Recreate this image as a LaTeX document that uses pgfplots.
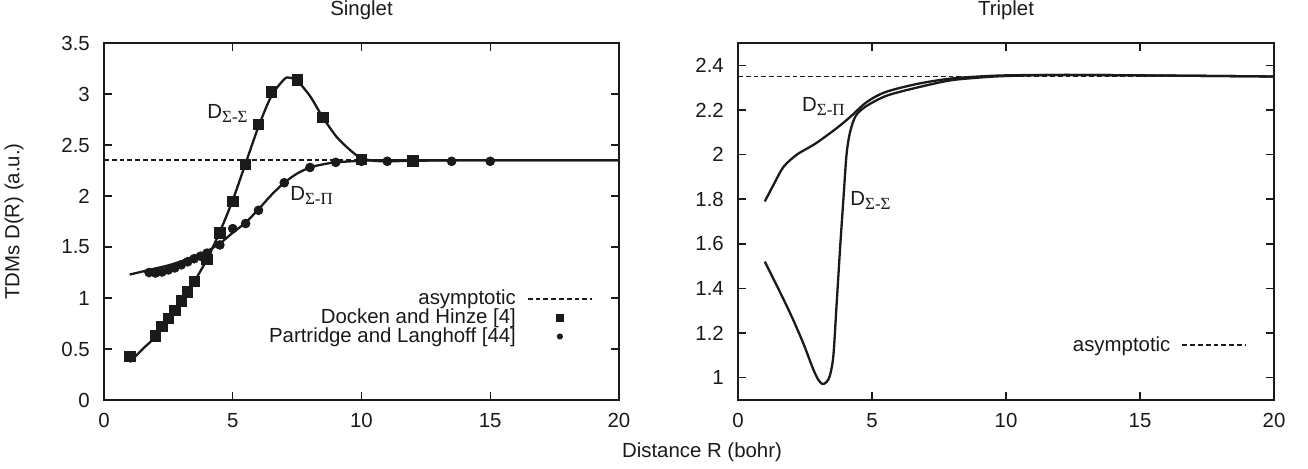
\documentclass[border=0pt]{standalone}
\usepackage{fontspec}
\setmainfont{Liberation Sans}
\newfontfamily\serifgr{Liberation Serif}
\usepackage{pgfplots}
\pgfplotsset{compat=1.18}
\newcommand{\myfont}{\fontsize{10.2}{12}\selectfont}
\newcommand{\Dsub}[1]{D\textsubscript{\serifgr\fontsize{8.5}{10}\selectfont #1}}
\definecolor{ink}{HTML}{1A1A1A}
\tikzset{lbl/.style={anchor=base west, inner sep=0pt, font=\myfont, text=ink}}
\pgfplotsset{
  common/.style={
    scale only axis, height=178.5pt,
    xmin=0, xmax=20, xtick={0,5,10,15,20},
    major tick length=3.8pt,
    tick style={ink, line width=0.7pt},
    axis line style={ink, line width=0.9pt},
    /pgf/number format/assume math mode=true,
    every tick label/.append style={font=\myfont, text=ink},
    xticklabel style={yshift=-3pt},
    yticklabel style={xshift=-3.5pt},
    clip=false,
    legend cell align=right,
    legend plot pos=right,
  },
  curve/.style={ink, line width=1.15pt, smooth, tension=0.5},
  asym/.style={ink, line width=0.95pt, dash pattern=on 2.4pt off 1.5pt,
    legend image code/.code={\draw[##1] (0pt,0pt) -- (32pt,0pt);}},
  sqleg/.style={legend image code/.code={\draw[mark repeat=2,mark phase=2,##1, mark size=1.8pt] plot coordinates {(0pt,0pt) (16pt,0pt) (32pt,0pt)};}},
  cirleg/.style={legend image code/.code={\draw[mark repeat=2,mark phase=2,##1, mark size=1.3pt] plot coordinates {(0pt,0pt) (16pt,0pt) (32pt,0pt)};}},
}

\begin{document}
\myfont
\begin{tikzpicture}
\begin{axis}[common, name=left, at={(0,0)}, width=257.5pt,
  ymin=0, ymax=3.5, ytick={0,0.5,1,1.5,2,2.5,3,3.5},
  legend style={draw=none, fill=none, at={(0.95,0.318)}, anchor=north east,
    font=\myfont, text=ink, row sep=-2.5pt, inner sep=0pt, nodes={inner sep=1.5pt},
    /tikz/every odd column/.append style={column sep=4pt}},
]
\addplot[asym] coordinates {(0,2.35) (20,2.35)};
\addlegendentry{asymptotic}
\addplot[only marks, mark=square*, mark size=2.6pt, ink, sqleg]
coordinates {
(1,0.43) (2,0.63) (2.25,0.72) (2.5,0.80) (2.75,0.88) (3,0.97) (3.25,1.06) (3.5,1.16)
(4,1.38) (4.5,1.64) (5,1.95) (5.5,2.31) (6,2.70) (6.5,3.02) (7.5,3.14) (8.5,2.77)
(10,2.36) (12,2.345)};
\addlegendentry{Docken and Hinze [4]}
\addplot[only marks, mark=*, mark size=2.2pt, ink, cirleg]
coordinates {
(1.75,1.25) (2,1.245) (2.25,1.255) (2.5,1.275) (2.75,1.295) (3,1.325) (3.25,1.355)
(3.5,1.385) (3.75,1.41) (4,1.44) (4.5,1.52) (5,1.68) (5.5,1.73) (6,1.86) (7,2.13)
(8,2.28) (9,2.33) (10,2.34) (11,2.34) (13.5,2.34) (15,2.34)};
\addlegendentry{Partridge and Langhoff [44]}
\addplot[curve, forget plot] coordinates {
(1,0.37) (1.5,0.50) (2,0.62) (2.5,0.80) (3,0.97) (3.5,1.16) (4,1.38) (4.5,1.65)
(5,1.96) (5.5,2.32) (6,2.68) (6.5,2.98) (7,3.145) (7.2,3.16) (7.5,3.13) (8,2.98)
(8.5,2.77) (9,2.59) (9.3,2.51) (9.7,2.42) (10,2.37) (10.5,2.345) (11,2.34)
(12,2.345) (14,2.35) (20,2.35)};
\addplot[curve, forget plot] coordinates {
(1,1.23) (1.5,1.26) (2,1.29) (2.5,1.32) (3,1.36) (3.5,1.41) (4,1.46) (4.5,1.535)
(5,1.64) (5.5,1.74) (6,1.87) (6.5,2.01) (7,2.13) (7.5,2.22) (8,2.28) (8.5,2.31)
(9,2.33) (10,2.345) (11,2.35) (20,2.35)};
\node[lbl] at (axis cs:4.0,2.76) {\Dsub{Σ-Σ}};
\node[lbl] at (axis cs:7.22,1.96) {\Dsub{Σ-Π}};
\node[anchor=base, font=\myfont, text=ink, yshift=14pt] at (rel axis cs:0.5,1) {Singlet};
\node[font=\myfont, text=ink, xshift=-45pt, rotate=90] at (rel axis cs:0,0.5) {TDMs D(R) (a.u.)};
\end{axis}

\begin{axis}[common, name=right, at={(317pt,0)}, width=268pt,
  ymin=0.9, ymax=2.5, ytick={1,1.2,1.4,1.6,1.8,2,2.2,2.4},
  yticklabels={1,1.2,1.4,1.6,1.8,2,2.2,2.4},
  legend style={draw=none, fill=none, at={(0.951,0.188)}, anchor=north east,
    font=\myfont, text=ink, inner sep=0pt, nodes={inner sep=1.5pt},
    /tikz/every odd column/.append style={column sep=4pt}},
]
\addplot[asym] coordinates {(0,2.35) (20,2.35)};
\addlegendentry{asymptotic}
\addplot[curve, forget plot] coordinates {
(1,1.79) (1.35,1.87) (1.7,1.945) (2.2,2.0) (2.9,2.05) (3.7,2.12) (4.2,2.17)
(4.8,2.235) (5.5,2.28) (6.7,2.317) (7.9,2.34) (9,2.35) (10,2.355) (12,2.357)
(15,2.355) (20,2.35)};
\addplot[curve, forget plot] coordinates {
(1,1.52) (1.5,1.40) (2,1.275) (2.45,1.15) (2.8,1.04) (3.0,0.99) (3.15,0.972)
(3.3,0.98) (3.43,1.01) (3.56,1.10) (3.68,1.33) (3.82,1.60) (3.95,1.83) (4.05,2.0)
(4.18,2.10) (4.4,2.175) (4.8,2.218) (5.55,2.264) (6.67,2.30) (7.9,2.332)
(9,2.345) (10,2.352) (12,2.357) (15,2.355) (20,2.35)};
\node[lbl] at (axis cs:2.38,2.195) {\Dsub{Σ-Π}};
\node[lbl] at (axis cs:4.18,1.771) {\Dsub{Σ-Σ}};
\node[anchor=base, font=\myfont, text=ink, yshift=14pt] at (rel axis cs:0.5,1) {Triplet};
\end{axis}

\node[font=\myfont, text=ink] at (left.south west) [xshift=299pt, yshift=-26pt] {Distance R (bohr)};
\pgfresetboundingbox
\path[use as bounding box] (-52pt,-34pt) rectangle (602pt,200pt);
\end{tikzpicture}
\end{document}
